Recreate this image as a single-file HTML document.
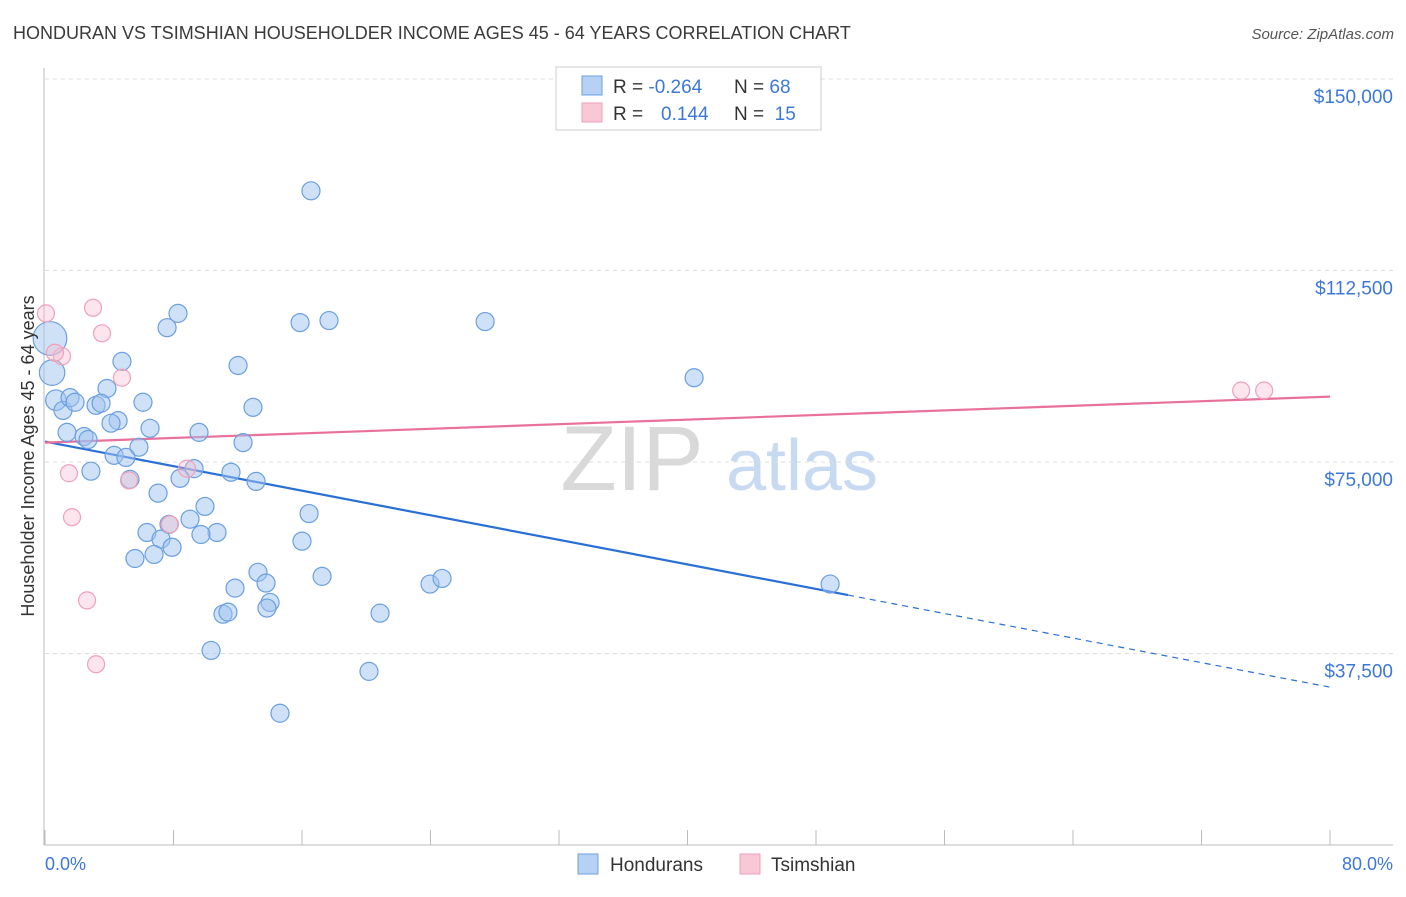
<!DOCTYPE html>
<html><head><meta charset="utf-8">
<style>
body{margin:0;background:#fff;font-family:"Liberation Sans",sans-serif;}
svg text{font-family:"Liberation Sans",sans-serif;}
</style></head>
<body>
<svg id="chart" width="1406" height="892" viewBox="0 0 1406 892" xmlns="http://www.w3.org/2000/svg">
<text x="13" y="39" font-size="18" fill="#3a3a3a">HONDURAN VS TSIMSHIAN HOUSEHOLDER INCOME AGES 45 - 64 YEARS CORRELATION CHART</text>
<text x="1394" y="39" font-size="15" fill="#555" text-anchor="end" font-style="italic">Source: ZipAtlas.com</text>
<g>
<text x="632" y="490" font-size="92" fill="#d9d9d9" text-anchor="middle" font-family="Liberation Serif, serif">ZIP</text>
<text x="802" y="490" font-size="72" fill="#c8daf2" text-anchor="middle">atlas</text>
</g>
<g id="grid"></g>
<g id="axes"></g>
<g id="lines"></g>
<g id="points"></g>
<text transform="translate(34,456) rotate(-90)" font-size="18" fill="#333" text-anchor="middle">Householder Income Ages 45 - 64 years</text>
<text x="45" y="870" font-size="18" fill="#3c78d8">0.0%</text>
<text x="1393" y="870" font-size="18" fill="#3c78d8" text-anchor="end">80.0%</text>
<g>
<rect x="556" y="67" width="265" height="63" fill="#fff" stroke="#ccc"/>
<rect x="582" y="76" width="20" height="19" fill="#b7d1f4" stroke="#6a9fe0"/>
<rect x="582" y="103" width="20" height="19" fill="#f9c8d6" stroke="#f0a0b8"/>
<text x="613" y="93" font-size="19" fill="#333">R = <tspan fill="#3c78d8">-0.264</tspan></text>
<text x="734" y="93" font-size="19" fill="#333">N = <tspan fill="#3c78d8">68</tspan></text>
<text x="613" y="120" font-size="19" fill="#333">R = <tspan fill="#3c78d8" x="661">0.144</tspan></text>
<text x="734" y="120" font-size="19" fill="#333">N = <tspan fill="#3c78d8">&#160;15</tspan></text>
</g>
<g>
<rect x="578" y="854" width="20" height="20" fill="#b7d1f4" stroke="#6a9fe0"/>
<text x="610" y="871" font-size="19" fill="#333">Hondurans</text>
<rect x="740" y="854" width="20" height="20" fill="#f9c8d6" stroke="#f0a0b8"/>
<text x="771" y="871" font-size="19" fill="#333">Tsimshian</text>
</g>
</svg>
<script>
const yTicks=[37500,75000,112500,150000];
const yTickLabels=["$37,500","$75,000","$112,500","$150,000"];
const xTicks=[0,8,16,24,32,40,48,56,64,72,80];
const blueX=[16.56,8.28,7.60,15.88,17.68,27.40,4.79,12.02,0.44,0.31,3.86,40.41,0.68,1.12,1.56,1.87,3.18,3.49,6.10,12.95,4.55,4.11,1.37,2.43,2.68,6.54,9.59,12.33,5.85,4.30,5.04,2.86,9.28,8.41,11.58,13.14,5.29,7.04,9.96,9.03,16.44,7.72,6.35,7.22,7.91,10.71,9.71,16.00,5.60,6.79,13.26,17.25,13.76,11.83,23.97,24.72,48.88,14.01,13.82,11.08,11.39,20.86,10.34,20.17,14.63];
const blueY=[128.1,104.1,101.3,102.3,102.7,102.5,94.7,93.9,92.5,99.2,89.4,91.5,87.1,85.1,87.6,86.7,86.1,86.5,86.7,85.7,83.1,82.6,80.8,80.0,79.4,81.6,80.8,78.8,77.9,76.3,75.9,73.2,73.7,71.8,73.0,71.2,71.6,68.9,66.3,63.8,64.9,62.8,61.2,59.9,58.3,61.2,60.8,59.5,56.1,56.9,53.4,52.6,51.3,50.3,51.1,52.2,51.1,47.5,46.4,45.2,45.6,45.4,38.1,34.0,25.8];
const blueWeight=[1,1,1,1,1,1,1,1,2,3.5,1,1,1.3,1,1,1,1,1,1,1,1,1,1,1,1,1,1,1,1,1,1,1,1,1,1,1,1,1,1,1,1,1,1,1,1,1,1,1,1,1,1,1,1,1,1,1,1,1,1,1,1,1,1,1,1];
const pinkX=[0.06,2.99,3.55,1.06,0.62,4.79,1.49,8.84,5.23,1.68,7.78,2.62,3.18,74.47,75.90];
const pinkY=[104.1,105.2,100.2,95.7,96.4,91.5,72.8,73.7,71.4,64.2,62.8,47.9,35.4,89.0,89.0];
const blueTrend=[79.0,30.9]; // at 0% and 80%
const blueSolidEnd=50;
const pinkTrend=[78.8,87.8];

const NS="http://www.w3.org/2000/svg";
const X0=45,X1=1330,Y0=845,YTOP=79;
function xs(p){return X0+(p/80)*(X1-X0);}
function ys(v){return Y0-(v/150000)*(Y0-YTOP);}
function yk(k){return ys(k*1000);}
function mk(parent,tag,attrs){const e=document.createElementNS(NS,tag);for(const k in attrs)e.setAttribute(k,attrs[k]);document.getElementById(parent).appendChild(e);return e;}

yTicks.forEach((t,i)=>{
 const l=mk('grid','line',{x1:45,x2:1393,y1:ys(t),y2:ys(t),stroke:'#dcdcdc','stroke-dasharray':'4,4'});
 
 
 const tx=mk('grid','text',{x:1393,y:ys(t)+24,'font-size':19,fill:'#3c78d8','text-anchor':'end'});
 tx.textContent=yTickLabels[i];
 
 
});
const al=mk('axes','line',{x1:44,x2:44,y1:68,y2:Y0,stroke:'#bbb'});


const bl=mk('axes','line',{x1:44,x2:1393,y1:Y0,y2:Y0,stroke:'#bbb'});


xTicks.forEach(t=>{
 const l=mk('axes','line',{x1:xs(t),x2:xs(t),y1:Y0-15,y2:Y0,stroke:'#bbb'});
 
 
});

blueX.forEach((p,i)=>{
 const c=mk('points','circle',{cx:xs(p),cy:yk(blueY[i]),r:9*Math.sqrt(blueWeight[i]),fill:'rgba(160,196,240,0.5)',stroke:'#6a9fe0','stroke-width':1.2});
 
 
});
pinkX.forEach((p,i)=>{
 const c=mk('points','circle',{cx:xs(p),cy:yk(pinkY[i]),r:8.5,fill:'rgba(248,190,208,0.4)',stroke:'#f0a0b8','stroke-width':1.2});
 
 
});
function tv(tr,p){return tr[0]+(tr[1]-tr[0])*p/80;}
const b1=mk('lines','line',{x1:xs(0),y1:yk(tv(blueTrend,0)),x2:xs(blueSolidEnd),y2:yk(tv(blueTrend,blueSolidEnd)),stroke:'#2a6fd6','stroke-width':2.2});


const b2=mk('lines','line',{x1:xs(blueSolidEnd),y1:yk(tv(blueTrend,blueSolidEnd)),x2:xs(80),y2:yk(tv(blueTrend,80)),stroke:'#2a6fd6','stroke-width':1.2,'stroke-dasharray':'6,5'});


const p1=mk('lines','line',{x1:xs(0),y1:yk(tv(pinkTrend,0)),x2:xs(80),y2:yk(tv(pinkTrend,80)),stroke:'#e8709a','stroke-width':2.2});


</script>
</body></html>
